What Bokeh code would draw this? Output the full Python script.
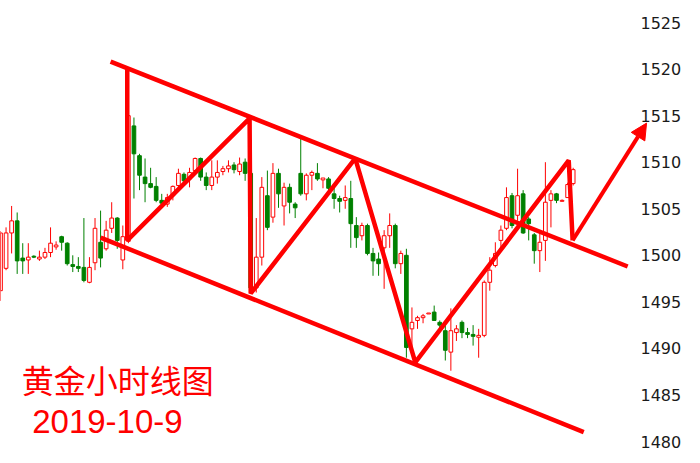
from bokeh.plotting import figure
from bokeh.models import Range1d, FixedTicker, ColumnDataSource, Arrow, NormalHead
from bokeh.embed import file_html
from bokeh.resources import INLINE
from bokeh.core.properties import value

# ---- hourly gold candles ----
opens = [1496.2, 1498.6, 1502.4, 1503.7, 1499.7, 1499.5, 1499.9, 1499.6, 1499.8, 1500.3,
         1500.9, 1502.0, 1501.3, 1499.0, 1498.8, 1498.7, 1497.1, 1499.2, 1501.4, 1500.7,
         1502.9, 1504.0, 1499.5, 1501.5, 1513.9, 1510.7, 1508.4, 1507.7, 1507.4, 1505.9,
         1505.5, 1506.4, 1507.5, 1508.7, 1508.2, 1509.1, 1510.4, 1508.4, 1507.5, 1508.4,
         1509.0, 1509.3, 1509.7, 1509.0, 1510.0, 1508.8, 1496.5, 1499.8, 1506.4, 1504.1,
         1508.8, 1505.3, 1507.3, 1505.5, 1508.8, 1506.6, 1508.6, 1508.8, 1508.1, 1508.2,
         1506.6, 1506.1, 1505.9, 1506.1, 1503.2, 1502.1, 1503.2, 1500.2, 1499.6, 1500.8,
         1502.1, 1503.2, 1499.1, 1500.0, 1492.1, 1493.0, 1493.3, 1493.7, 1493.9, 1492.8,
         1491.9, 1489.6, 1491.7, 1492.8, 1491.7, 1491.5, 1491.2, 1491.4, 1497.1, 1498.9,
         1501.6, 1502.9, 1506.4, 1504.3, 1506.6, 1503.9, 1502.2, 1500.5, 1501.6, 1505.9,
         1506.6, 1505.8, 1506.2, 1507.7]
highs = [1502.6, 1503.0, 1505.3, 1504.6, 1501.3, 1501.3, 1500.0, 1500.5, 1500.8, 1503.0,
         1501.5, 1502.1, 1501.4, 1500.0, 1499.8, 1504.0, 1499.8, 1504.0, 1504.8, 1503.7,
         1505.7, 1504.1, 1503.2, 1515.5, 1514.8, 1510.9, 1510.4, 1509.4, 1508.4, 1506.6,
         1506.6, 1507.5, 1509.3, 1508.9, 1509.4, 1510.5, 1510.5, 1508.9, 1510.2, 1510.2,
         1509.6, 1510.2, 1510.0, 1510.5, 1510.4, 1509.5, 1504.0, 1508.4, 1509.1, 1509.9,
         1509.3, 1507.8, 1507.7, 1505.7, 1512.7, 1508.8, 1509.1, 1509.9, 1508.3, 1508.4,
         1507.3, 1506.4, 1507.5, 1508.0, 1504.1, 1503.5, 1503.4, 1500.8, 1500.3, 1502.7,
         1504.5, 1503.4, 1500.5, 1500.7, 1494.4, 1493.5, 1493.7, 1493.8, 1494.6, 1493.0,
         1492.7, 1494.3, 1492.5, 1493.0, 1492.2, 1492.5, 1492.1, 1497.3, 1499.8, 1501.4,
         1503.2, 1507.3, 1506.7, 1509.3, 1507.0, 1504.1, 1502.4, 1502.4, 1510.0, 1507.0,
         1506.7, 1506.0, 1507.8, 1509.4]
lows = [1495.1, 1498.4, 1500.2, 1498.0, 1498.0, 1498.0, 1499.7, 1499.4, 1499.6, 1499.8,
        1500.6, 1500.5, 1498.9, 1498.2, 1498.2, 1497.1, 1497.0, 1498.4, 1498.7, 1500.5,
        1502.4, 1500.7, 1498.5, 1501.3, 1506.1, 1507.0, 1505.7, 1507.2, 1505.7, 1505.3,
        1505.2, 1505.9, 1507.2, 1507.7, 1507.3, 1508.9, 1508.0, 1507.0, 1507.0, 1507.7,
        1508.6, 1508.9, 1508.8, 1508.6, 1508.0, 1496.2, 1496.0, 1498.9, 1502.7, 1503.5,
        1505.1, 1503.2, 1504.5, 1504.0, 1506.4, 1505.9, 1507.0, 1508.0, 1507.2, 1506.4,
        1505.0, 1504.6, 1505.0, 1500.8, 1500.8, 1501.6, 1500.0, 1497.8, 1497.8, 1496.4,
        1500.8, 1498.6, 1498.0, 1489.0, 1490.1, 1492.1, 1492.7, 1493.7, 1493.0, 1492.1,
        1488.7, 1487.6, 1490.8, 1491.1, 1491.1, 1490.3, 1489.0, 1491.2, 1496.2, 1498.7,
        1500.7, 1502.7, 1502.9, 1503.7, 1502.3, 1501.6, 1499.1, 1498.2, 1499.4, 1503.0,
        1505.6, 1505.8, 1506.2, 1507.5]
closes = [1502.4, 1502.4, 1503.7, 1499.4, 1499.4, 1499.8, 1499.8, 1499.8, 1500.3, 1501.3,
          1501.1, 1501.4, 1499.1, 1498.8, 1498.6, 1497.3, 1498.7, 1502.9, 1499.7, 1502.7,
          1504.0, 1501.6, 1502.0, 1515.0, 1510.9, 1508.6, 1507.7, 1507.3, 1505.9, 1505.6,
          1506.2, 1507.4, 1508.8, 1508.0, 1508.9, 1510.4, 1508.4, 1507.5, 1508.4, 1508.9,
          1509.3, 1509.6, 1509.2, 1509.8, 1508.8, 1496.5, 1499.8, 1507.3, 1503.0, 1508.8,
          1506.6, 1507.3, 1505.7, 1505.1, 1506.6, 1508.6, 1508.9, 1508.2, 1508.3, 1507.2,
          1506.1, 1505.8, 1506.2, 1503.4, 1501.9, 1503.2, 1500.2, 1499.4, 1499.1, 1502.1,
          1503.2, 1499.1, 1500.2, 1490.1, 1492.8, 1493.3, 1493.5, 1493.8, 1493.0, 1492.5,
          1489.8, 1491.9, 1492.1, 1491.7, 1491.5, 1491.3, 1491.4, 1497.1, 1498.4, 1500.2,
          1502.7, 1506.2, 1503.2, 1506.4, 1502.4, 1503.4, 1500.5, 1501.4, 1505.7, 1506.6,
          1505.9, 1505.9, 1507.6, 1509.2]

price_ticks = [1480, 1485, 1490, 1495, 1500, 1505, 1510, 1515, 1520, 1525]

# ---- hand-drawn analysis lines (bar index, price) ----
upper_channel_x = [19.8, 112.8]
upper_channel_y = [1520.8, 1498.8]
lower_channel_x = [18.0, 104.9]
lower_channel_y = [1501.9, 1481.0]
zigzag_x = [22.8, 22.8, 44.8, 45.0, 63.8, 74.6, 102.2, 102.9]
zigzag_y = [1520.2, 1501.6, 1514.7, 1495.9, 1510.4, 1488.5, 1510.2, 1501.6]
arrow_from = (102.9, 1501.6)
arrow_to = (116.2, 1514.2)

title_text = "黄金小时线图"
date_text = "2019-10-9"
title_pos = (3.8, 1486.7)
date_pos = (5.7, 1482.1)

RED = "#ff0000"
GREEN = "#008000"

idx = list(range(len(opens)))
up = [i for i in idx if closes[i] >= opens[i]]
dn = [i for i in idx if closes[i] < opens[i]]

def src(sel):
    return ColumnDataSource(dict(
        x=[idx[i] for i in sel],
        o=[opens[i] for i in sel],
        h=[highs[i] for i in sel],
        l=[lows[i] for i in sel],
        c=[closes[i] for i in sel],
    ))

up_src = src(up)
dn_src = src(dn)

PX = 5.56      # pixels per bar
PPU = 9.31     # pixels per price unit

p = figure(width=692, height=455, output_backend="svg", toolbar_location=None,
           x_axis_location=None, y_axis_location="right",
           x_range=Range1d(0, 684 / PX),
           y_range=Range1d(1480 - 14 / PPU, 1480 + 441 / PPU),
           min_border_left=0, min_border_top=0, min_border_bottom=0, min_border_right=8)
p.outline_line_color = None
p.grid.visible = False
p.background_fill_color = "white"

yax = p.yaxis[0]
yax.ticker = FixedTicker(ticks=price_ticks)
yax.axis_line_color = None
yax.major_tick_line_color = None
yax.minor_tick_line_color = None
yax.major_tick_out = 0
yax.major_tick_in = 0
yax.major_label_standoff = -44
yax.major_label_text_font = "DejaVu Sans"
yax.major_label_text_font_size = "16px"
yax.major_label_text_color = "#1a1a1a"

W = 0.66
p.segment(x0="x", y0="h", x1="x", y1="l", source=up_src, line_color=RED, line_width=1)
p.vbar(x="x", width=W, top="c", bottom="o", source=up_src, fill_color="white", line_color=RED, line_width=1)
p.segment(x0="x", y0="h", x1="x", y1="l", source=dn_src, line_color=GREEN, line_width=1)
p.vbar(x="x", width=W, top="o", bottom="c", source=dn_src, fill_color=GREEN, line_color=GREEN, line_width=1)

p.line(upper_channel_x, upper_channel_y, line_color=RED, line_width=4.5)
p.line(lower_channel_x, lower_channel_y, line_color=RED, line_width=4.5)
p.line(zigzag_x, zigzag_y, line_color=RED, line_width=4.5)

p.add_layout(Arrow(end=NormalHead(size=16, fill_color=RED, line_color=RED),
                   x_start=arrow_from[0], y_start=arrow_from[1],
                   x_end=arrow_to[0], y_end=arrow_to[1],
                   line_color=RED, line_width=4))

p.text(x=[title_pos[0]], y=[title_pos[1]], text=[title_text], text_color=RED,
       text_font=value("Noto Sans CJK SC"), text_font_size="32px",
       text_align="left", text_baseline="middle")
p.text(x=[date_pos[0]], y=[date_pos[1]], text=[date_text], text_color=RED,
       text_font=value("Liberation Sans"), text_font_size="33px",
       text_align="left", text_baseline="middle")

open("out.html", "w").write(file_html(p, INLINE))
